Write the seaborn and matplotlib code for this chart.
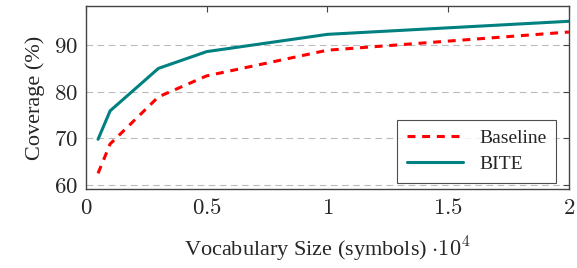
import pandas as pd
import matplotlib
matplotlib.use("Agg")
import matplotlib.pyplot as plt
import seaborn as sns

# vocabulary size in units of 10^4 symbols
vocab_size = [0.05, 0.1, 0.3, 0.5, 1.0, 2.0]
baseline = [62.5, 68.8, 78.9, 83.4, 88.9, 92.8]
bite = [69.8, 75.9, 85.0, 88.6, 92.3, 95.1]
yticks = [60, 70, 80, 90]
xticks = [0, 0.5, 1, 1.5, 2]

df = pd.DataFrame({
    "vocab": vocab_size * 2,
    "coverage": baseline + bite,
    "method": ["Baseline"] * len(baseline) + ["BITE"] * len(bite),
})

sns.set_style("white")
plt.rcParams["font.family"] = ["Liberation Serif", "DejaVu Serif"]
plt.rcParams["mathtext.fontset"] = "cm"

fig = plt.figure(figsize=(5.77, 2.68), dpi=100)
ax = fig.add_axes([0.149, 0.294, 0.837, 0.684])

# dashed horizontal grid like pgfplots
for y in yticks:
    ax.axhline(y, color="#bbbbbb", lw=0.8, ls=(0, (6, 4)), zorder=0)

sns.lineplot(data=df[df.method == "Baseline"], x="vocab", y="coverage", ax=ax,
             color="red", lw=2.2, ls=(0, (2.6, 2.2)), label="Baseline")
sns.lineplot(data=df[df.method == "BITE"], x="vocab", y="coverage", ax=ax,
             color="#008080", lw=2.2, label="BITE")

ax.set_xlim(0, 2)
ax.set_ylim(59.1, 98.4)
ax.set_xticks(xticks)
ax.set_xticklabels([f"${t:g}$" for t in xticks], fontsize=16.5)
ax.set_yticks(yticks)
ax.set_yticklabels([f"${t}$" for t in yticks], fontsize=16.5)
ax.tick_params(direction="in", top=True, right=True, length=4, color="#444444", pad=6)
for s in ax.spines.values():
    s.set_color("#444444")
    s.set_linewidth(1.0)

ax.set_xlabel(r"Vocabulary Size (symbols) $\cdot 10^4$", fontsize=16, labelpad=12)
ax.set_ylabel("Coverage (%)", fontsize=16, labelpad=6)

leg = ax.legend(loc="lower right", bbox_to_anchor=(0.973, 0.034), borderaxespad=0,
                fontsize=14, frameon=True, fancybox=False, edgecolor="#222222",
                handlelength=2.9, labelspacing=0.45, borderpad=0.5)
leg.get_frame().set_linewidth(0.8)

fig.savefig("out.png", dpi=100)
